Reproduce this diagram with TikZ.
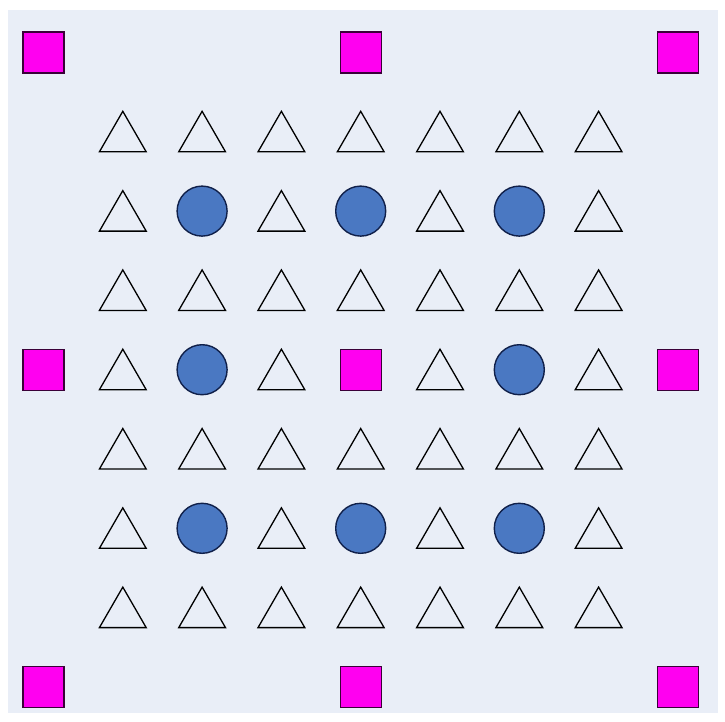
\documentclass[tikz,border=0pt]{standalone}
\usetikzlibrary{shapes.geometric}
\definecolor{panel}{HTML}{E9EEF7}
\definecolor{sqfill}{HTML}{FF00F0}
\definecolor{sqline}{HTML}{3A0038}
\definecolor{cfill}{HTML}{4A78C2}
\definecolor{cline}{HTML}{10204A}
\tikzset{
  sq/.style={draw=sqline, fill=sqfill, line width=1.4pt, minimum size=41pt, inner sep=0pt, outer sep=0pt},
  dot/.style={circle, draw=cline, fill=cfill, line width=1.4pt, minimum size=50pt, inner sep=0pt},
  tri/.style={regular polygon, regular polygon sides=3, draw=black, line width=1.3pt, minimum size=54pt, inner sep=0pt},
}
\begin{document}
\begin{tikzpicture}[x=1pt,y=-1pt]
\useasboundingbox (0,0) rectangle (725,721);
\fill[white] (0,0) rectangle (725,721);
\fill[panel] (8,10) rectangle (718,713);
\foreach \i in {0,...,8}{
  \foreach \j in {0,...,8}{
    \pgfmathsetmacro{\px}{43.5+79.3*\i}
    \pgfmathsetmacro{\py}{52.5+79.3*\j}
    \pgfmathtruncatemacro{\onedge}{(\i==0)||(\i==8)||(\j==0)||(\j==8)}
    \pgfmathtruncatemacro{\isq}{(mod(\i,4)==0)&&(mod(\j,4)==0)}
    \pgfmathtruncatemacro{\icirc}{(mod(\i,2)==0)&&(mod(\j,2)==0)}
    \ifnum\isq=1
      \node[sq] (s-\i-\j) at (\px,\py) {};
    \else\ifnum\onedge=0
      \ifnum\icirc=1
        \node[dot] (c-\i-\j) at (\px,\py) {};
      \else
        \node[tri] (t-\i-\j) at (\px,\py+6.5) {};
      \fi
    \fi\fi
  }
}
\end{tikzpicture}
\end{document}
